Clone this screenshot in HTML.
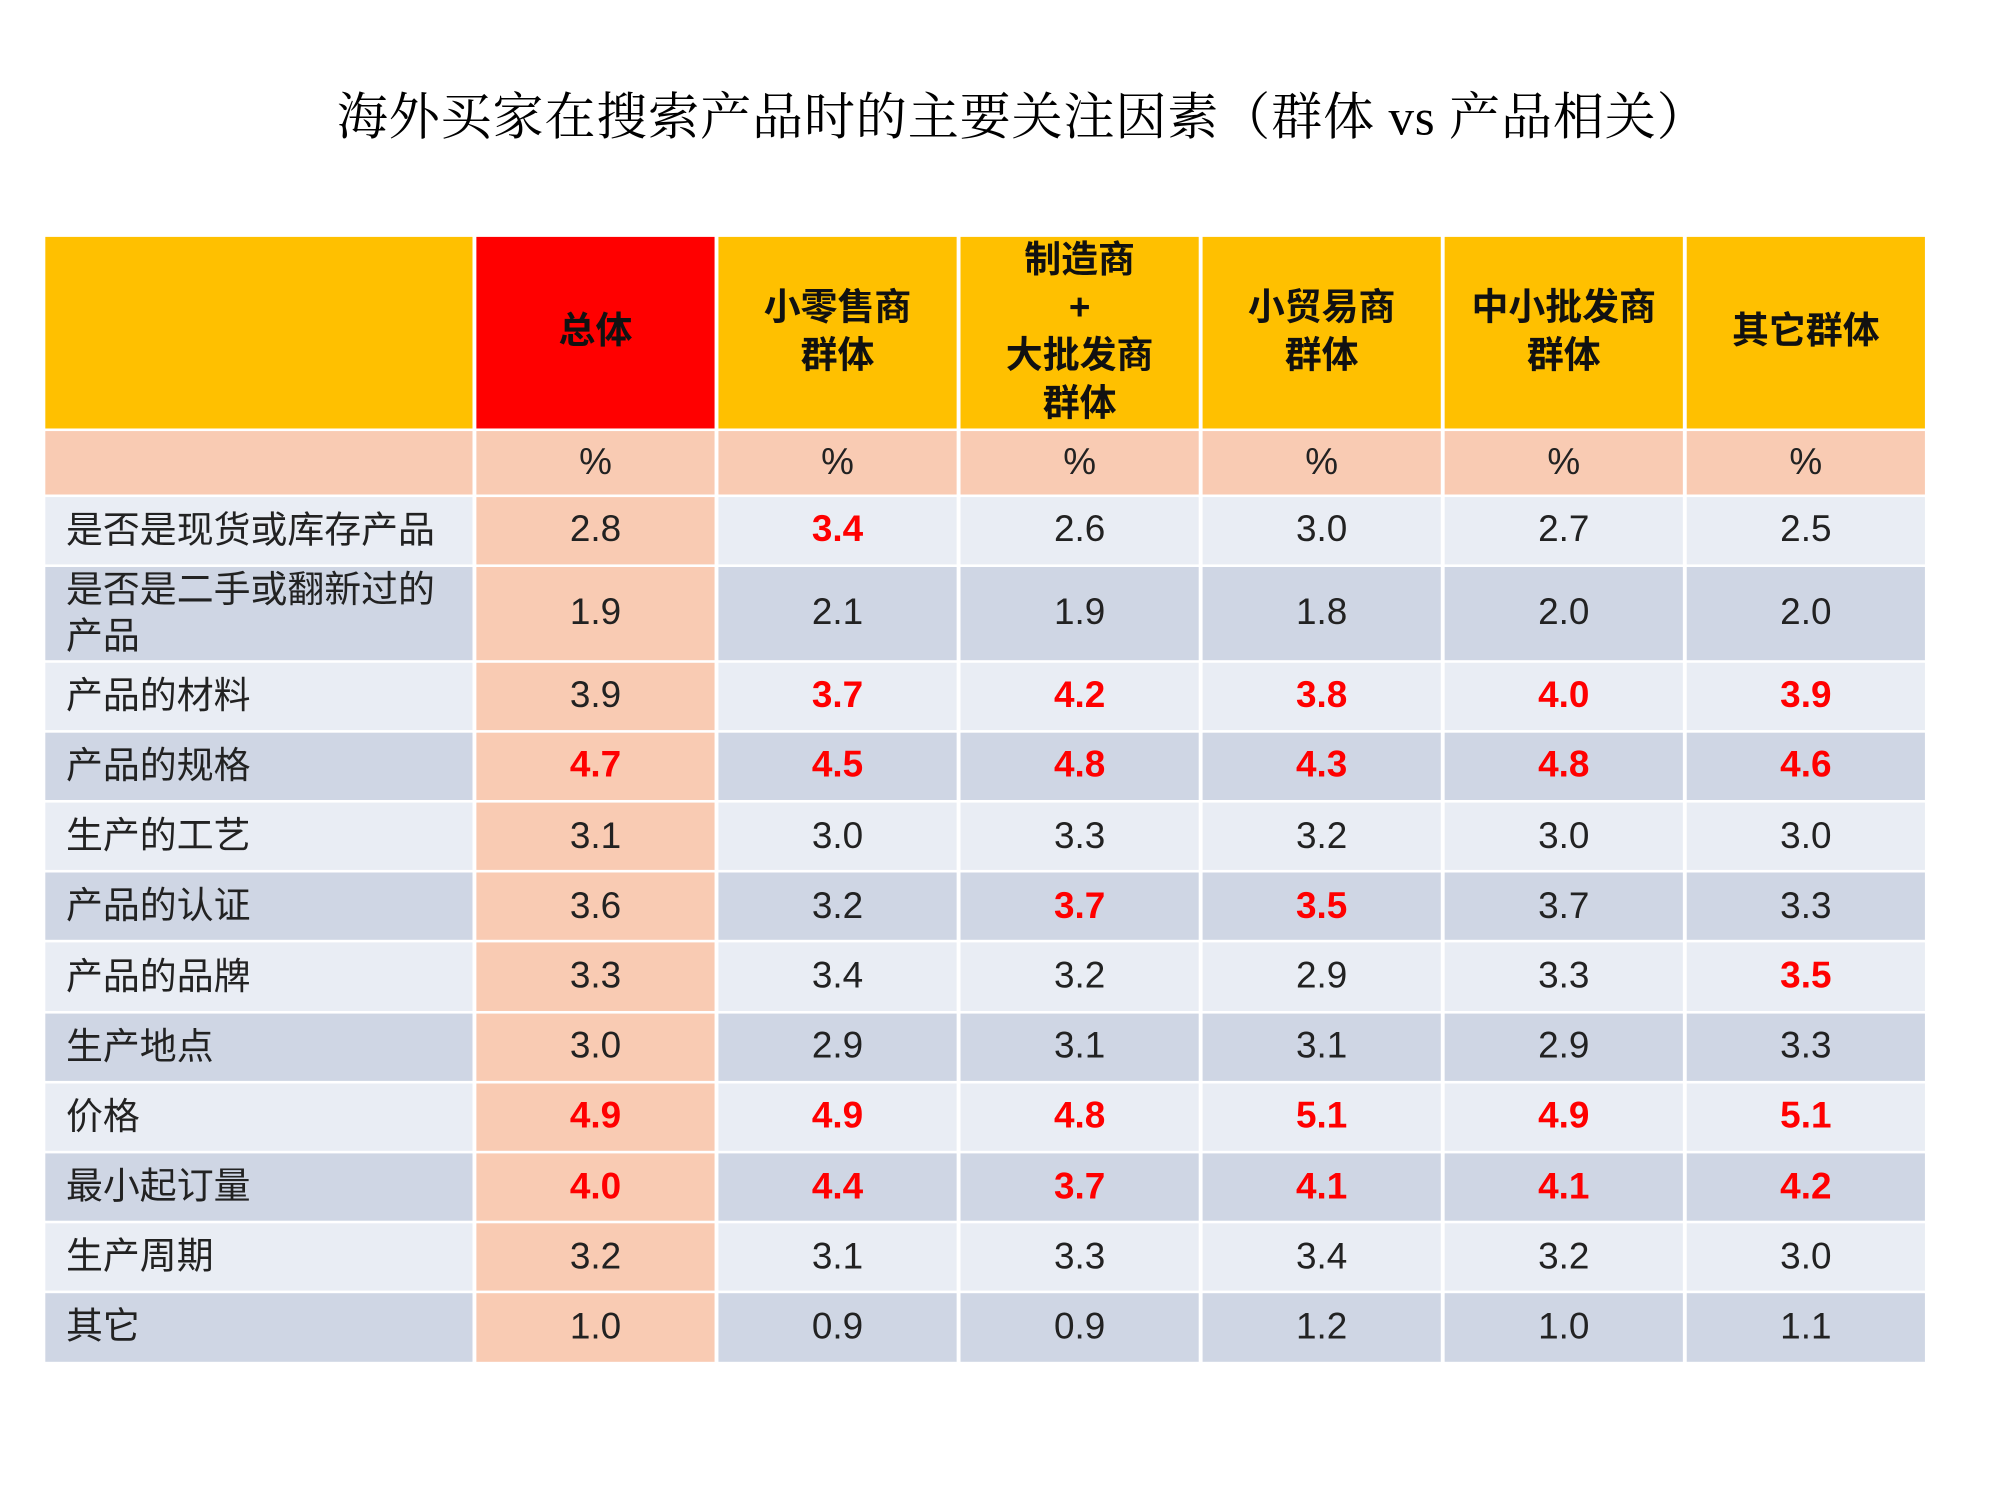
<!DOCTYPE html>
<html><head><meta charset="utf-8"><style>
html,body{margin:0;padding:0;background:#fff;width:2000px;height:1500px;overflow:hidden}
#wrap{width:1545px;height:1159px;transform:scale(1.2945);transform-origin:0 0;position:relative}
h1{position:absolute;top:60px;left:0;width:1580px;text-align:center;margin:0;font:39.5px "Liberation Serif","Noto Serif CJK SC",serif;color:#000;letter-spacing:0.6px}
table{position:absolute;left:32px;top:180.5px;border-collapse:separate;border-spacing:3px 2.4px;table-layout:fixed;width:1455px}
td{padding:0;text-align:center;font:28.5px "Liberation Sans","Noto Sans CJK SC",sans-serif;color:#222;box-sizing:border-box;overflow:hidden}
td.l{text-align:left;padding-left:16px;line-height:36px;white-space:nowrap}
tr.h td{background:#FFC000;height:137px;font-weight:bold;line-height:37px;color:#111}
tr.h td.t{background:#FF0000}
tr.p td{background:#F9CBB3;height:49px}
tr.a td{background:#E9EDF4}
tr.b td{background:#CFD6E4}
tr.a td.t,tr.b td.t{background:#F9CBB3}
tr.d td{height:52.2px}
tr.d2 td{height:71px}
td.r{color:#FF0000;font-weight:bold}
</style></head><body>
<div id="wrap">
<h1>海外买家在搜索产品时的主要关注因素（群体 vs 产品相关）</h1>
<table>
<colgroup><col style="width:330px"><col style="width:184px"><col style="width:184px"><col style="width:184px"><col style="width:184px"><col style="width:184px"><col style="width:184px"></colgroup>
<tr class="h"><td class="l"></td><td class="t">总体</td><td>小零售商<br>群体</td><td>制造商<br>+<br>大批发商<br>群体</td><td>小贸易商<br>群体</td><td>中小批发商<br>群体</td><td>其它群体</td></tr>
<tr class="p"><td class="l"></td><td>%</td><td>%</td><td>%</td><td>%</td><td>%</td><td>%</td></tr>
<tr class="a d"><td class="l">是否是现货或库存产品</td><td class="t">2.8</td><td class="r">3.4</td><td>2.6</td><td>3.0</td><td>2.7</td><td>2.5</td></tr>
<tr class="b d2"><td class="l">是否是二手或翻新过的<br>产品</td><td class="t">1.9</td><td>2.1</td><td>1.9</td><td>1.8</td><td>2.0</td><td>2.0</td></tr>
<tr class="a d"><td class="l">产品的材料</td><td class="t">3.9</td><td class="r">3.7</td><td class="r">4.2</td><td class="r">3.8</td><td class="r">4.0</td><td class="r">3.9</td></tr>
<tr class="b d"><td class="l">产品的规格</td><td class="t r">4.7</td><td class="r">4.5</td><td class="r">4.8</td><td class="r">4.3</td><td class="r">4.8</td><td class="r">4.6</td></tr>
<tr class="a d"><td class="l">生产的工艺</td><td class="t">3.1</td><td>3.0</td><td>3.3</td><td>3.2</td><td>3.0</td><td>3.0</td></tr>
<tr class="b d"><td class="l">产品的认证</td><td class="t">3.6</td><td>3.2</td><td class="r">3.7</td><td class="r">3.5</td><td>3.7</td><td>3.3</td></tr>
<tr class="a d"><td class="l">产品的品牌</td><td class="t">3.3</td><td>3.4</td><td>3.2</td><td>2.9</td><td>3.3</td><td class="r">3.5</td></tr>
<tr class="b d"><td class="l">生产地点</td><td class="t">3.0</td><td>2.9</td><td>3.1</td><td>3.1</td><td>2.9</td><td>3.3</td></tr>
<tr class="a d"><td class="l">价格</td><td class="t r">4.9</td><td class="r">4.9</td><td class="r">4.8</td><td class="r">5.1</td><td class="r">4.9</td><td class="r">5.1</td></tr>
<tr class="b d"><td class="l">最小起订量</td><td class="t r">4.0</td><td class="r">4.4</td><td class="r">3.7</td><td class="r">4.1</td><td class="r">4.1</td><td class="r">4.2</td></tr>
<tr class="a d"><td class="l">生产周期</td><td class="t">3.2</td><td>3.1</td><td>3.3</td><td>3.4</td><td>3.2</td><td>3.0</td></tr>
<tr class="b d"><td class="l">其它</td><td class="t">1.0</td><td>0.9</td><td>0.9</td><td>1.2</td><td>1.0</td><td>1.1</td></tr>
</table>
</div>
</body></html>
